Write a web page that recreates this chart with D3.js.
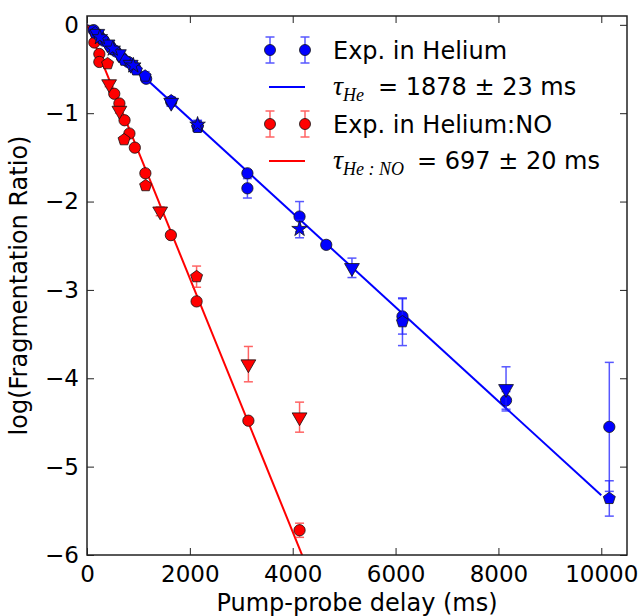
<!DOCTYPE html>
<html>
<head>
<meta charset="utf-8">
<script src="https://cdn.jsdelivr.net/npm/d3@7"></script>
<style>
  body { margin: 0; background: #fff; }
  text { font-family: "DejaVu Sans", sans-serif; }
</style>
</head>
<body>
<svg width="643" height="616"></svg>
<script>
// [delay in ms, log ratio, error]
var heCircles = [
  [130, -0.06, 0.02], [230, -0.12, 0.02], [330, -0.18, 0.02], [450, -0.24, 0.02],
  [560, -0.30, 0.03], [680, -0.37, 0.03], [800, -0.42, 0.03], [930, -0.48, 0.03],
  [1150, -0.61, 0.04], [1637, -0.87, 0.05], [2150, -1.14, 0.06], [3119, -1.68, 0.04],
  [3119, -1.85, 0.11], [4133, -2.17, 0.17], [4652, -2.49, 0.04], [6134, -3.30, 0.2],
  [8148, -4.25, 0.1], [10156, -4.55, 0.73]
]
var hePentagons = [
  [160, -0.09, 0.02], [300, -0.16, 0.02], [520, -0.28, 0.02], [730, -0.40, 0.03],
  [960, -0.51, 0.03], [1130, -0.58, 0.05], [1637, -0.86, 0.04], [2150, -1.16, 0.05],
  [6134, -3.36, 0.27], [10156, -5.36, 0.2]
]
var heTriangles = [
  [200, -0.10, 0.02], [400, -0.22, 0.02], [620, -0.33, 0.03], [850, -0.45, 0.03],
  [1637, -0.88, 0.04], [5152, -2.75, 0.11], [8148, -4.12, 0.25]
]
var heStars = [
  [250, -0.14, 0.02], [500, -0.27, 0.02], [900, -0.46, 0.03], [2150, -1.13, 0.04],
  [4133, -2.31, 0.1]
]

var noCircles = [
  [143, -0.20, 0.02], [240, -0.33, 0.02], [240, -0.42, 0.02], [530, -0.78, 0.03],
  [630, -0.89, 0.03], [730, -1.08, 0.03], [825, -1.23, 0.03], [930, -1.39, 0.03],
  [1135, -1.68, 0.03], [1631, -2.38, 0.03], [2131, -3.13, 0.03], [3138, -4.48, 0.03],
  [4133, -5.72, 0.08]
]
var noPentagons = [
  [400, -0.44, 0.02], [721, -1.30, 0.03], [1140, -1.82, 0.03], [2131, -2.85, 0.12]
]
var noTriangles = [
  [430, -0.67, 0.03], [630, -0.97, 0.03], [1423, -2.11, 0.05], [3138, -3.84, 0.2],
  [4133, -4.44, 0.17]
]

var tauHe = 1878
var tauNO = 697
var fitDelays = [0, 10000]

var xTicks = [0, 2000, 4000, 6000, 8000, 10000]
var yTicks = [0, -1, -2, -3, -4, -5, -6]

var svg = d3.select("svg")
var margin = {top: 16, right: 16, bottom: 61, left: 87}
var width = 643
var height = 616

var x = d3.scaleLinear().domain([0, 10500]).range([margin.left, width - margin.right])
var y = d3.scaleLinear().domain([-6, 0.1]).range([height - margin.bottom, margin.top])

svg.append("clipPath").attr("id", "plotClip")
  .append("rect")
  .attr("x", margin.left).attr("y", margin.top)
  .attr("width", width - margin.left - margin.right)
  .attr("height", height - margin.top - margin.bottom)

var plot = svg.append("g").attr("clip-path", "url(#plotClip)")

// fit lines
var line = d3.line().x(d => x(d[0])).y(d => y(d[1]))
plot.append("path")
  .datum(fitDelays.map(t => [t, -t / tauHe]))
  .attr("d", line).attr("fill", "none").attr("stroke", "blue").attr("stroke-width", 2)
plot.append("path")
  .datum(fitDelays.map(t => [t, -t / tauNO]))
  .attr("d", line).attr("fill", "none").attr("stroke", "red").attr("stroke-width", 2)

function pentagon(r) {
  var pts = d3.range(5).map(k => {
    var a = -Math.PI / 2 + k * 2 * Math.PI / 5
    return [r * Math.cos(a), r * Math.sin(a)]
  })
  return "M" + pts.join("L") + "Z"
}

var shapes = {
  circle: () => d3.symbol(d3.symbolCircle, 100)(),
  pentagon: () => pentagon(6.3),
  triangle: () => d3.symbol(d3.symbolTriangle, 95)(),
  star: () => d3.symbol(d3.symbolStar, 75)()
}

function drawSeries(data, shape, color, barColor) {
  var g = plot.append("g")
  var bars = g.selectAll(".err").data(data).enter().append("g")
    .attr("stroke", barColor).attr("stroke-width", 1.5).attr("opacity", 0.75)
  bars.append("line")
    .attr("x1", d => x(d[0])).attr("x2", d => x(d[0]))
    .attr("y1", d => y(d[1] + d[2])).attr("y2", d => y(d[1] - d[2]))
  bars.append("line")
    .attr("x1", d => x(d[0]) - 4.5).attr("x2", d => x(d[0]) + 4.5)
    .attr("y1", d => y(d[1] + d[2])).attr("y2", d => y(d[1] + d[2]))
  bars.append("line")
    .attr("x1", d => x(d[0]) - 4.5).attr("x2", d => x(d[0]) + 4.5)
    .attr("y1", d => y(d[1] - d[2])).attr("y2", d => y(d[1] - d[2]))
  g.selectAll(".mark").data(data).enter().append("path")
    .attr("d", shapes[shape]())
    .attr("transform", d => `translate(${x(d[0])},${y(d[1])})` + (shape == "triangle" ? " rotate(180)" : ""))
    .attr("fill", color).attr("stroke", "#111").attr("stroke-width", 0.8)
}

drawSeries(noCircles, "circle", "red", "#ff3030")
drawSeries(noPentagons, "pentagon", "red", "#ff3030")
drawSeries(noTriangles, "triangle", "red", "#ff3030")
drawSeries(heCircles, "circle", "blue", "#2020ff")
drawSeries(hePentagons, "pentagon", "blue", "#2020ff")
drawSeries(heTriangles, "triangle", "blue", "#2020ff")
drawSeries(heStars, "star", "blue", "#2020ff")

// axes, classic style: inward ticks on all sides
var xAxis = d3.axisBottom(x).tickValues(xTicks).tickSizeInner(-7).tickSizeOuter(0).tickPadding(11)
  .tickFormat(d3.format("d"))
var yAxis = d3.axisLeft(y).tickValues(yTicks).tickSizeInner(-7).tickSizeOuter(0).tickPadding(8)
  .tickFormat(d => d < 0 ? "\u2212" + (-d) : d)

svg.append("g")
  .attr("transform", `translate(0,${height - margin.bottom})`)
  .call(xAxis)
svg.append("g")
  .attr("transform", `translate(${margin.left},0)`)
  .call(yAxis)
svg.append("g")
  .attr("transform", `translate(0,${margin.top})`)
  .call(d3.axisTop(x).tickValues(xTicks).tickSizeInner(-7).tickSizeOuter(0).tickFormat(""))
svg.append("g")
  .attr("transform", `translate(${width - margin.right},0)`)
  .call(d3.axisRight(y).tickValues(yTicks).tickSizeInner(-7).tickSizeOuter(0).tickFormat(""))

svg.selectAll(".domain").remove()
svg.selectAll(".tick line").attr("stroke", "#222")
svg.selectAll(".tick text")
  .attr("fill", "#000")
  .style("font-size", "23px")
  .style("font-family", "'DejaVu Sans', sans-serif")

svg.append("rect")
  .attr("x", margin.left).attr("y", margin.top)
  .attr("width", width - margin.left - margin.right)
  .attr("height", height - margin.top - margin.bottom)
  .attr("fill", "none").attr("stroke", "#222").attr("stroke-width", 1.5)

// axis labels
svg.append("text")
  .attr("x", (margin.left + width - margin.right) / 2)
  .attr("y", 611)
  .attr("text-anchor", "middle")
  .style("font-size", "24px")
  .text("Pump-probe delay (ms)")

svg.append("text")
  .attr("transform", `translate(27,${(margin.top + height - margin.bottom) / 2}) rotate(-90)`)
  .attr("text-anchor", "middle")
  .style("font-size", "24px")
  .text("log(Fragmentation Ratio)")

// legend
var legend = svg.append("g")
var legendRows = [
  {type: "points", color: "blue", bar: "#2020ff", y: 50},
  {type: "line", color: "blue", y: 87},
  {type: "points", color: "red", bar: "#ff3030", y: 124},
  {type: "line", color: "red", y: 161}
]
legendRows.forEach(r => {
  if (r.type == "line") {
    legend.append("line")
      .attr("x1", 269).attr("x2", 305).attr("y1", r.y).attr("y2", r.y)
      .attr("stroke", r.color).attr("stroke-width", 2)
  } else {
    [270, 305].forEach(cx => {
      var g = legend.append("g").attr("stroke", r.bar).attr("stroke-width", 1.5).attr("opacity", 0.75)
      g.append("line").attr("x1", cx).attr("x2", cx).attr("y1", r.y - 13).attr("y2", r.y + 13)
      g.append("line").attr("x1", cx - 4.5).attr("x2", cx + 4.5).attr("y1", r.y - 13).attr("y2", r.y - 13)
      g.append("line").attr("x1", cx - 4.5).attr("x2", cx + 4.5).attr("y1", r.y + 13).attr("y2", r.y + 13)
      legend.append("circle").attr("cx", cx).attr("cy", r.y).attr("r", 5.5)
        .attr("fill", r.color).attr("stroke", "#111").attr("stroke-width", 0.8)
    })
  }
})

legend.append("text").attr("x", 333).attr("y", 59).style("font-size", "24px").text("Exp. in Helium")
legend.append("text").attr("x", 333).attr("y", 133).style("font-size", "24px").text("Exp. in Helium:NO")

function tauLabel(yPos, sub, rest, restX) {
  var t = legend.append("text").attr("x", 333).attr("y", yPos)
  t.append("tspan")
    .style("font-family", "'Liberation Serif', serif").style("font-style", "italic")
    .style("font-size", "28px").text("\u03c4")
  t.append("tspan").attr("dy", 6)
    .style("font-family", "'Liberation Serif', serif").style("font-style", "italic")
    .style("font-size", "18px").text(sub)
  t.append("tspan").attr("x", restX).attr("dy", -6)
    .style("font-size", "24px").text(rest)
}
tauLabel(95, "He", "= 1878 \u00b1 23 ms", 378)
tauLabel(169, "He : NO", "= 697 \u00b1 20 ms", 417)
</script>
</body>
</html>
